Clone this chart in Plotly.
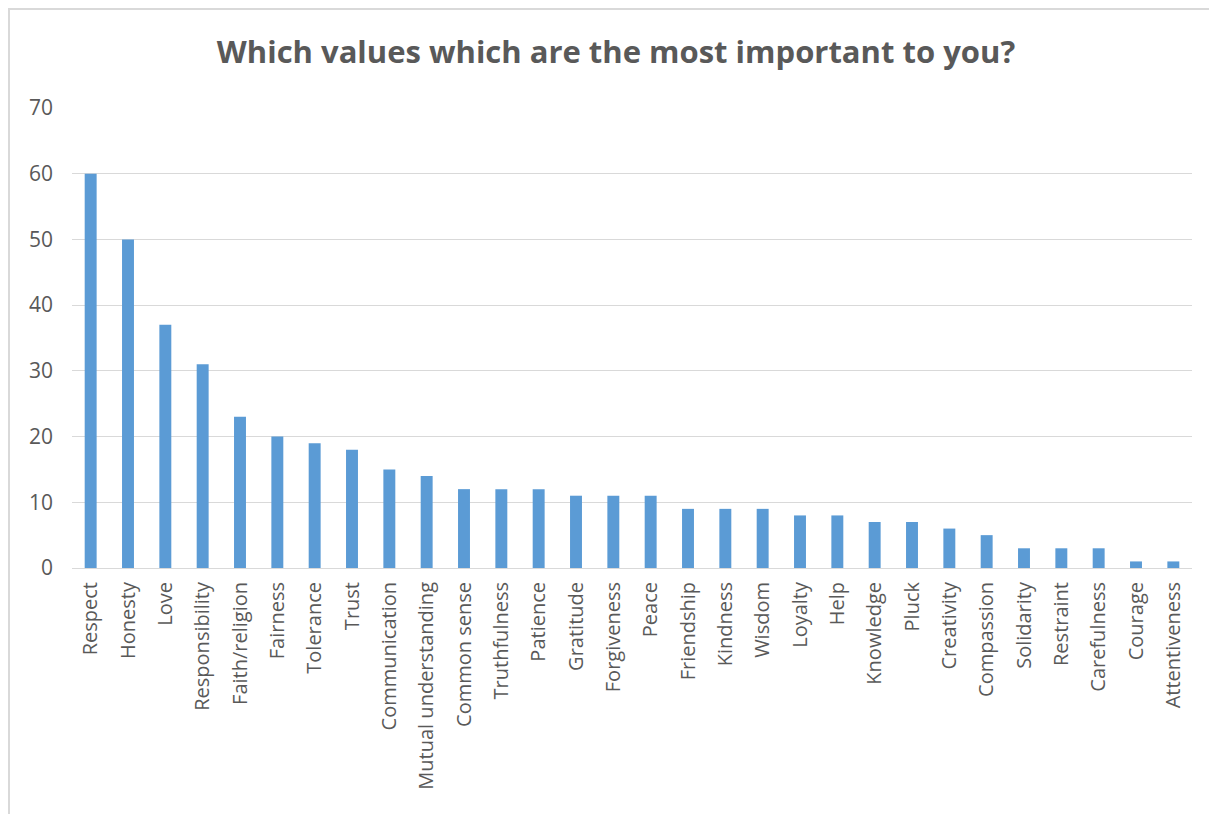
import plotly.graph_objects as go

categories = ["Respect", "Honesty", "Love", "Responsibility", "Faith/religion", "Fairness",
              "Tolerance", "Trust", "Communication", "Mutual understanding", "Common sense",
              "Truthfulness", "Patience", "Gratitude", "Forgiveness", "Peace", "Friendship",
              "Kindness", "Wisdom", "Loyalty", "Help", "Knowledge", "Pluck", "Creativity",
              "Compassion", "Solidarity", "Restraint", "Carefulness", "Courage", "Attentiveness"]
values = [60, 50, 37, 31, 23, 20, 19, 18, 15, 14, 12, 12, 12, 11, 11, 11, 9, 9, 9, 8, 8,
          7, 7, 6, 5, 3, 3, 3, 1, 1]
y_ticks = [0, 10, 20, 30, 40, 50, 60, 70]

# page has an 8px body margin, so the figure is sized/offset accordingly
W, H = 1209, 806
ml, mr, mt, mb = 64, 25, 100, 246
pw, ph = W - ml - mr, H - mt - mb

fig = go.Figure(go.Bar(x=categories, y=values, marker=dict(color="#5B9BD5", line=dict(width=0))))

gray = "#595959"
fig.update_layout(
    width=W, height=H,
    margin=dict(l=ml, r=mr, t=mt, b=mb),
    paper_bgcolor="white", plot_bgcolor="white",
    font=dict(family="Open Sans, Calibri, sans-serif", color=gray, size=16),
    title=dict(text="<b>Which values which are the most important to you?</b>",
               x=608 / W, xanchor="center", y=1 - 44 / H, yanchor="middle",
               font=dict(size=31, color=gray)),
    bargap=0.68,
    showlegend=False,
)
fig.update_xaxes(tickangle=-90, showgrid=False, showline=True, linecolor="#D9D9D9",
                 linewidth=1, ticks="", ticklabelstandoff=5,
                 tickfont=dict(size=20, color=gray))
fig.update_yaxes(range=[0, 70], tickvals=y_ticks, showgrid=True, gridcolor="#D9D9D9",
                 gridwidth=1, zeroline=False, showline=False, ticks="",
                 ticklabelstandoff=18, tickfont=dict(size=21, color=gray))

# chart border: top and left edges only
fig.add_shape(type="line", xref="paper", yref="paper",
              x0=(0 - ml) / pw, x1=(W - ml) / pw,
              y0=(H - mb - 1) / ph, y1=(H - mb - 1) / ph,
              line=dict(color="#D9D9D9", width=2), layer="below")
fig.add_shape(type="line", xref="paper", yref="paper",
              x0=(1 - ml) / pw, x1=(1 - ml) / pw,
              y0=(H - mb - 1) / ph, y1=(H - mb - H) / ph,
              line=dict(color="#D9D9D9", width=2), layer="below")

fig.write_html("out.html")
